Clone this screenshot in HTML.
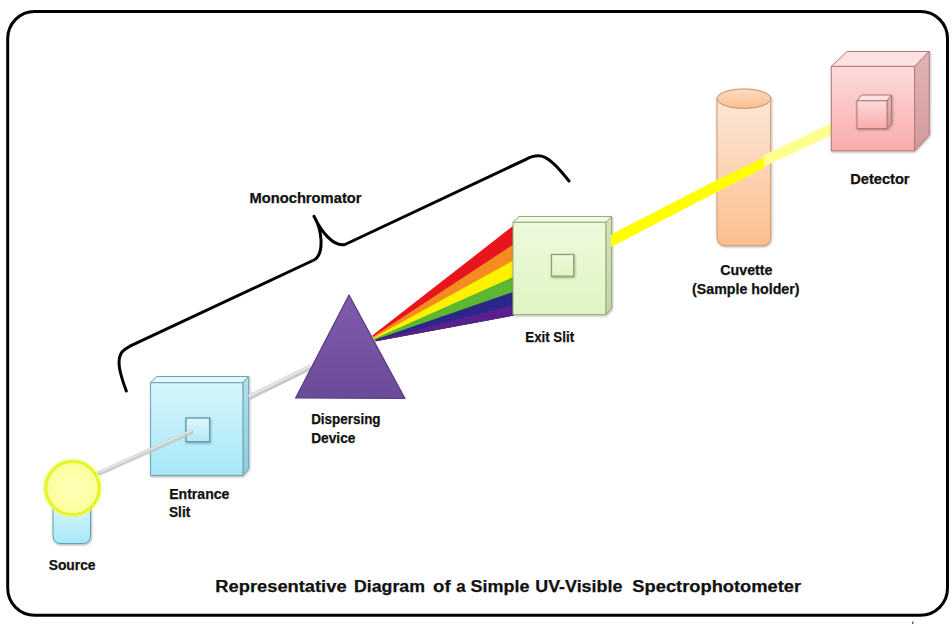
<!DOCTYPE html>
<html><head><meta charset="utf-8">
<style>
html,body{margin:0;padding:0;background:#fff;width:952px;height:624px;overflow:hidden}
svg{display:block}
text{font-family:"Liberation Sans",sans-serif;font-weight:bold;fill:#111;stroke:#111;stroke-width:0.25px}
</style></head><body>
<svg width="952" height="624" viewBox="0 0 952 624">
<defs>
  <linearGradient id="cyanF" x1="0" y1="0" x2="0" y2="1">
    <stop offset="0" stop-color="#d6f6fd"/><stop offset="1" stop-color="#a6e7f7"/>
  </linearGradient>
  <linearGradient id="cyanS" x1="0" y1="0" x2="0" y2="1">
    <stop offset="0" stop-color="#b4e0ea"/><stop offset="1" stop-color="#8ccbdc"/>
  </linearGradient>
  <linearGradient id="cyanI" x1="0" y1="0" x2="0" y2="1">
    <stop offset="0" stop-color="#e2f8fc"/><stop offset="1" stop-color="#b2eaf6"/>
  </linearGradient>
  <linearGradient id="greenF" x1="0" y1="0" x2="0" y2="1">
    <stop offset="0" stop-color="#eefadc"/><stop offset="1" stop-color="#dff4c3"/>
  </linearGradient>
  <linearGradient id="greenS" x1="0" y1="0" x2="0" y2="1">
    <stop offset="0" stop-color="#d4e2bc"/><stop offset="1" stop-color="#c2d4a6"/>
  </linearGradient>
  <linearGradient id="pinkF" x1="0" y1="0" x2="0" y2="1">
    <stop offset="0" stop-color="#fddbdb"/><stop offset="1" stop-color="#f9abab"/>
  </linearGradient>
  <linearGradient id="pinkS" x1="0" y1="0" x2="0" y2="1">
    <stop offset="0" stop-color="#e2b4b4"/><stop offset="1" stop-color="#d49a9a"/>
  </linearGradient>
  <linearGradient id="peachF" x1="0" y1="0" x2="0" y2="1">
    <stop offset="0" stop-color="#fde6d6"/><stop offset="1" stop-color="#fbbf8e"/>
  </linearGradient>
  <linearGradient id="peachT" x1="0" y1="0" x2="0" y2="1">
    <stop offset="0" stop-color="#fcdcc4"/><stop offset="1" stop-color="#fbbd8c"/>
  </linearGradient>
  <linearGradient id="purpF" x1="0" y1="0" x2="0" y2="1">
    <stop offset="0" stop-color="#7f5cab"/><stop offset="1" stop-color="#6c4a9a"/>
  </linearGradient>
  <radialGradient id="sunF" cx="0.5" cy="0.5" r="0.5">
    <stop offset="0" stop-color="#ffffbc"/><stop offset="1" stop-color="#fdfd9a"/>
  </radialGradient>
  <linearGradient id="beamG" x1="0" y1="0" x2="0" y2="1">
    <stop offset="0" stop-color="#e8e8e8"/><stop offset="1" stop-color="#b8b8b8"/>
  </linearGradient>
  <filter id="glow" x="-30%" y="-30%" width="160%" height="160%">
    <feGaussianBlur stdDeviation="1.3"/>
  </filter>
  <filter id="soft" x="-10%" y="-10%" width="120%" height="120%">
    <feGaussianBlur stdDeviation="0.5"/>
  </filter>
  <filter id="sh" x="-20%" y="-20%" width="150%" height="150%">
    <feDropShadow dx="0.6" dy="1" stdDeviation="0.8" flood-color="#000" flood-opacity="0.35"/>
  </filter>
</defs>

<!-- border -->
<rect x="7.7" y="11.5" width="939.8" height="603.8" rx="27" ry="27" fill="none" stroke="#000" stroke-width="3"/>
<rect x="912" y="621.5" width="1.5" height="2.5" fill="#666"/>

<!-- brace -->
<path d="M126.3 391 C120 374 116 360 122 352 C124 349.5 127 348 131 345.6 L314 260 C319.5 257 321.5 250 321 240 C320.5 230 318 223 314 216.3 C321 231 333 247 345 244.5 L526 159.3 C540 152 548 154 569 181"
      fill="none" stroke="#000" stroke-width="3" stroke-linecap="round" stroke-linejoin="round"/>

<!-- source base -->
<path d="M53 505 L90.5 505 L90.5 535.5 Q90.5 543.5 82.5 543.5 L61 543.5 Q53 543.5 53 535.5 Z" fill="url(#cyanF)" stroke="#5f9fb0" stroke-width="1" filter="url(#sh)"/>
<!-- source bulb -->
<circle cx="72.5" cy="488" r="27" fill="none" stroke="#f2f870" stroke-width="5" opacity="0.8" filter="url(#glow)"/>
<circle cx="72.5" cy="488" r="26.6" fill="url(#sunF)" stroke="#e6f42e" stroke-width="3" filter="url(#soft)"/>

<!-- entrance slit box -->
<g stroke="#6aa6b0" stroke-width="1" filter="url(#sh)">
  <polygon points="150.6,382.7 156.6,376.5 248.7,376.5 242.9,382.7" fill="#e2f9fd"/>
  <polygon points="242.9,382.7 248.7,376.5 248.7,468.5 242.9,475.4" fill="url(#cyanS)"/>
  <rect x="150.6" y="382.7" width="92.3" height="92.7" fill="url(#cyanF)"/>
</g>
<rect x="186" y="418" width="23.6" height="23.7" fill="url(#cyanI)" stroke="#5a9cac" stroke-width="1.3" filter="url(#sh)"/>
<!-- gray beam 1 -->
<g filter="url(#soft)">
<line x1="100" y1="473" x2="191" y2="432" stroke="#c2c2c2" stroke-width="5" stroke-linecap="round" opacity="0.8"/>
<line x1="100" y1="471.8" x2="191" y2="430.8" stroke="#e6e6e6" stroke-width="2" stroke-linecap="round" opacity="0.9"/>
</g>
<!-- gray beam 2 -->
<g filter="url(#soft)">
<line x1="249" y1="397.5" x2="311" y2="367" stroke="#c8c8c8" stroke-width="5.5"/>
<line x1="249" y1="396.3" x2="311" y2="365.8" stroke="#e6e6e6" stroke-width="2.2"/>
</g>

<!-- prism -->
<polygon points="349,295 405,398.5 295.6,398" fill="url(#purpF)" stroke="#553a80" stroke-width="1.2" stroke-linejoin="round"/>

<!-- rainbow -->
<polygon points="372.3,335.6 514,225.2 514,315.5 375.7,341.3" fill="#e8151c"/>
<polygon points="373.0,336.8 514,244 514,315.5 375.7,341.3" fill="#f68b1f"/>
<polygon points="373.6,337.8 514,260 514,315.5 375.7,341.3" fill="#fff200"/>
<polygon points="374.2,338.8 514,276.7 514,315.5 375.7,341.3" fill="#5cb731"/>
<polygon points="374.8,339.8 514,291.7 514,315.5 375.7,341.3" fill="#2b2789"/>
<polygon points="375.3,340.6 514,305 514,315.5 375.7,341.3" fill="#5a1f8e"/>

<!-- exit slit box -->
<g stroke="#9aab7a" stroke-width="1" filter="url(#sh)">
  <polygon points="513,222.3 519,216.5 611.5,216.5 605.8,222.3" fill="#f3fbe6"/>
  <polygon points="605.8,222.3 611.5,216.5 611.5,308.5 605.8,314.6" fill="url(#greenS)"/>
  <rect x="513" y="222.3" width="92.8" height="92.3" fill="url(#greenF)"/>
</g>
<rect x="551.5" y="254.5" width="22.2" height="21.7" fill="url(#greenF)" stroke="#8fa070" stroke-width="1.3" filter="url(#sh)"/>

<!-- cuvette -->
<g filter="url(#sh)">
<path d="M717 98.7 L717 236.7 Q717 245.7 726 245.7 L761.7 245.7 Q770.7 245.7 770.7 236.7 L770.7 98.7 Z" fill="url(#peachF)" stroke="#cf9a72" stroke-width="1"/>
<ellipse cx="743.85" cy="98.7" rx="26.85" ry="9.7" fill="url(#peachT)" stroke="#c89068" stroke-width="1"/>
</g>

<!-- yellow beam -->
<g filter="url(#soft)">
<polygon points="763,155.5 831,123.5 831,135.6 763,167" fill="#ffff90"/>
<polygon points="611,234.6 715,181.1 764,157.6 764,168 715,193 611,246.9" fill="#ffff00"/>
</g>

<!-- detector -->
<g stroke="#b47878" stroke-width="1" filter="url(#sh)">
  <polygon points="831.3,66.4 847.2,51.5 929.2,51.5 914.6,66.4" fill="#fde2e2"/>
  <polygon points="914.6,66.4 929.2,51.5 929.2,135 914.6,150.8" fill="url(#pinkS)"/>
  <rect x="831.3" y="66.4" width="83.3" height="84.4" fill="url(#pinkF)"/>
</g>
<g stroke="#b47878" stroke-width="1" filter="url(#sh)">
  <polygon points="857,100.8 861.5,95 891.5,95 887,100.8" fill="#fde2e2"/>
  <polygon points="887,100.8 891.5,95 891.5,123 887,128.5" fill="url(#pinkS)"/>
  <rect x="857" y="100.8" width="30" height="27.7" fill="url(#pinkF)"/>
</g>

<!-- labels -->
<text x="215.30" y="592" font-size="17.4" textLength="131.29" lengthAdjust="spacingAndGlyphs">Representative</text>
<text x="354.04" y="592" font-size="17.4" textLength="70.95" lengthAdjust="spacingAndGlyphs">Diagram</text>
<text x="433.04" y="592" font-size="17.4" textLength="17.6" lengthAdjust="spacingAndGlyphs">of</text>
<text x="456.2" y="592" font-size="17.4" textLength="9.38" lengthAdjust="spacingAndGlyphs">a</text>
<text x="470.46" y="592" font-size="17.4" textLength="58.95" lengthAdjust="spacingAndGlyphs">Simple</text>
<text x="535.23" y="592" font-size="17.4" textLength="87.15" lengthAdjust="spacingAndGlyphs">UV-Visible</text>
<text x="632.36" y="592" font-size="17.4" textLength="168.74" lengthAdjust="spacingAndGlyphs">Spectrophotometer</text>
<text x="249.45" y="202.5" font-size="14" textLength="112.08" lengthAdjust="spacingAndGlyphs">Monochromator</text>
<text x="850.18" y="183.7" font-size="14" textLength="59.38" lengthAdjust="spacingAndGlyphs">Detector</text>
<text x="720.36" y="274.8" font-size="14" textLength="51.98" lengthAdjust="spacingAndGlyphs">Cuvette</text>
<text x="692.13" y="293.5" font-size="14" textLength="107.39" lengthAdjust="spacingAndGlyphs">(Sample holder)</text>
<text x="525.25" y="341.9" font-size="14" textLength="48.85" lengthAdjust="spacingAndGlyphs">Exit Slit</text>
<text x="311.16" y="423.9" font-size="14" textLength="69.38" lengthAdjust="spacingAndGlyphs">Dispersing</text>
<text x="311.26" y="442.8" font-size="14" textLength="44.10" lengthAdjust="spacingAndGlyphs">Device</text>
<text x="169.16" y="498.7" font-size="14" textLength="60.31" lengthAdjust="spacingAndGlyphs">Entrance</text>
<text x="168.97" y="517.4" font-size="14" textLength="21.26" lengthAdjust="spacingAndGlyphs">Slit</text>
<text x="48.72" y="569.7" font-size="14" textLength="46.80" lengthAdjust="spacingAndGlyphs">Source</text>
</svg>
</body></html>
